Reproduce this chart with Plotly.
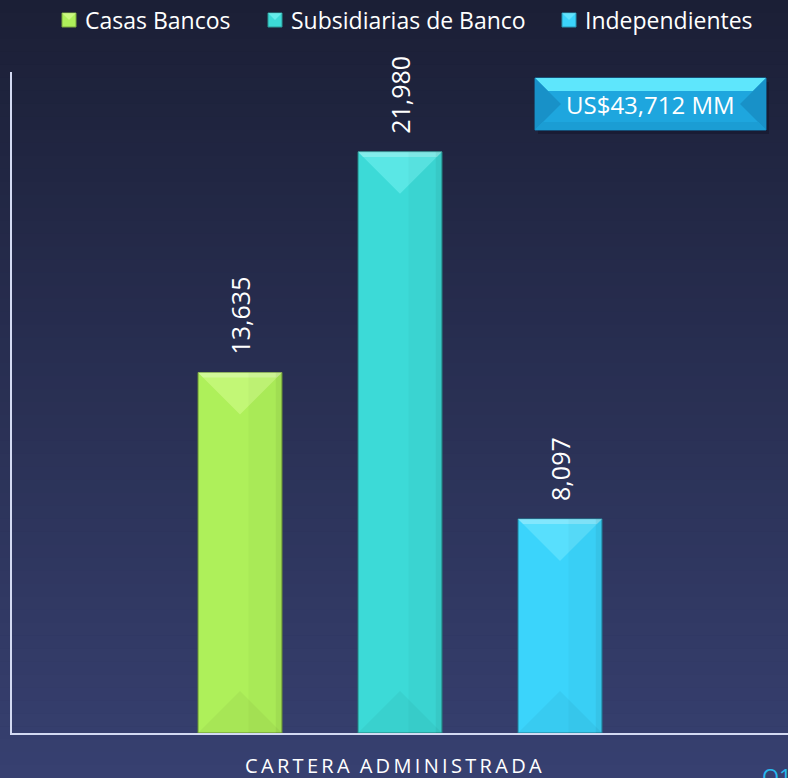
import plotly.graph_objects as go

# data
series = ["Casas Bancos", "Subsidiarias de Banco", "Independientes"]
values = [13635, 21980, 8097]
labels = ["13,635", "21,980", "8,097"]
total_label = "US$43,712 MM"
category = "CARTERA ADMINISTRADA"
period = "Q1"

COLORS = ["#aef05a", "#3cdad7", "#3bd4fb"]
TOPS = ["#dcff9a", "#7ff6f6", "#7cedff"]

W, H = 788, 778
M = dict(l=12, r=0, t=72, b=45)
Y_MAX = 25000
X_RANGE = [-1.425, 3.425]
BAR_W = 0.525

plot_w = W - M["l"] - M["r"]
plot_h = H - M["t"] - M["b"]
px_y = plot_h / Y_MAX            # pixels per y unit
px_x = plot_w / (X_RANGE[1] - X_RANGE[0])


def paper_x(px):
    return (px - M["l"]) / plot_w


def paper_y(py):
    return (H - M["b"] - py) / plot_h


def mix(c1, c2, t):
    a = [int(c1[i:i + 2], 16) for i in (1, 3, 5)]
    b = [int(c2[i:i + 2], 16) for i in (1, 3, 5)]
    return "#%02x%02x%02x" % tuple(round(a[k] + (b[k] - a[k]) * t) for k in range(3))


fig = go.Figure()

for i, (name, v) in enumerate(zip(series, values)):
    fig.add_trace(
        go.Bar(
            x=[i],
            y=[v],
            name=name,
            width=BAR_W,
            marker=dict(color=COLORS[i], line=dict(color=mix(COLORS[i], "#000000", 0.4), width=1)),
            hoverinfo="skip",
            showlegend=False,
        )
    )

shapes = []

# background gradient
bands = 60
for k in range(bands):
    y0, y1 = H * k / bands, H * (k + 1) / bands
    shapes.append(dict(
        type="rect", xref="paper", yref="paper", layer="below",
        x0=paper_x(-2), x1=paper_x(W + 2), y0=paper_y(y1 + 0.5), y1=paper_y(y0),
        fillcolor=mix("#1b1f36", "#374070", (k + 0.5) / bands), line=dict(width=0),
    ))

# bevel decoration on the bars, derived from the data values
hw = BAR_W / 2
depth = hw * px_x / px_y
for i, v in enumerate(values):
    xl, xr = i - hw, i + hw
    shapes.append(dict(
        type="path", xref="x", yref="y", layer="above",
        path=f"M{xl},{v} L{xr},{v} L{i},{v - depth} Z",
        fillcolor=TOPS[i], opacity=0.45, line=dict(width=0),
    ))
    shapes.append(dict(
        type="path", xref="x", yref="y", layer="above",
        path=f"M{xl},{v} L{xr},{v} L{xr - hw * 0.12},{v - depth * 0.12} L{xl + hw * 0.12},{v - depth * 0.12} Z",
        fillcolor="#ffffff", opacity=0.25, line=dict(width=0),
    ))
    shapes.append(dict(
        type="path", xref="x", yref="y", layer="above",
        path=f"M{xl},0 L{xr},0 L{i},{depth} Z",
        fillcolor="#000000", opacity=0.04, line=dict(width=0),
    ))
    shapes.append(dict(
        type="rect", xref="x", yref="y", layer="above",
        x0=i + hw * 0.2, x1=xr, y0=0, y1=v,
        fillcolor="#000000", opacity=0.025, line=dict(width=0),
    ))
    shapes.append(dict(
        type="rect", xref="x", yref="y", layer="above",
        x0=xr - hw * 0.15, x1=xr, y0=0, y1=v,
        fillcolor="#000000", opacity=0.05, line=dict(width=0),
    ))

# total box with bevel
bx0, bx1, by0, by1 = 535, 766, 78, 130
bd = 26
shapes += [
    dict(type="rect", xref="paper", yref="paper", x0=paper_x(bx0 + 3), x1=paper_x(bx1 + 3),
         y0=paper_y(by1 + 4), y1=paper_y(by0 + 4), fillcolor="#111427", opacity=0.5, line=dict(width=0)),
    dict(type="rect", xref="paper", yref="paper", x0=paper_x(bx0), x1=paper_x(bx1),
         y0=paper_y(by1), y1=paper_y(by0), fillcolor="#1ea6de", line=dict(color="#1380b5", width=1)),
    dict(type="path", xref="paper", yref="paper", line=dict(width=0), fillcolor="#5ee6fc",
         path=f"M{paper_x(bx0)},{paper_y(by0)} L{paper_x(bx1)},{paper_y(by0)} "
              f"L{paper_x(bx1 - 13)},{paper_y(by0 + 13)} L{paper_x(bx0 + 13)},{paper_y(by0 + 13)} Z"),
    dict(type="path", xref="paper", yref="paper", line=dict(width=0), fillcolor="#1891c8",
         path=f"M{paper_x(bx0)},{paper_y(by0)} L{paper_x(bx0 + bd)},{paper_y((by0 + by1) / 2)} "
              f"L{paper_x(bx0)},{paper_y(by1)} Z"),
    dict(type="path", xref="paper", yref="paper", line=dict(width=0), fillcolor="#1891c8",
         path=f"M{paper_x(bx1)},{paper_y(by0)} L{paper_x(bx1 - bd)},{paper_y((by0 + by1) / 2)} "
              f"L{paper_x(bx1)},{paper_y(by1)} Z"),
    dict(type="path", xref="paper", yref="paper", line=dict(width=0), fillcolor="#1b9dd4",
         path=f"M{paper_x(bx0)},{paper_y(by1)} L{paper_x(bx1)},{paper_y(by1)} "
              f"L{paper_x(bx1 - 8)},{paper_y(by1 - 8)} L{paper_x(bx0 + 8)},{paper_y(by1 - 8)} Z"),
]

annotations = []

# legend drawn by hand so the spacing matches
legend_x = [62, 268, 562]
for i, name in enumerate(series):
    lx = legend_x[i]
    shapes.append(dict(
        type="rect", xref="paper", yref="paper",
        x0=paper_x(lx), x1=paper_x(lx + 14), y0=paper_y(27), y1=paper_y(13),
        fillcolor=COLORS[i], line=dict(color=mix(COLORS[i], "#000000", 0.3), width=1),
    ))
    shapes.append(dict(
        type="path", xref="paper", yref="paper", line=dict(width=0), fillcolor=TOPS[i], opacity=0.6,
        path=f"M{paper_x(lx)},{paper_y(13)} L{paper_x(lx + 14)},{paper_y(13)} L{paper_x(lx + 7)},{paper_y(20)} Z",
    ))
    annotations.append(dict(
        x=paper_x(lx + 21), y=paper_y(20), xref="paper", yref="paper", text=name,
        showarrow=False, xanchor="left", yanchor="middle",
        font=dict(family="Open Sans", size=23, color="#ffffff"),
    ))

for i, (v, lab) in enumerate(zip(values, labels)):
    annotations.append(dict(
        x=i, y=v, xref="x", yref="y", text=lab, textangle=-90, showarrow=False,
        yanchor="bottom", xanchor="center", yshift=16,
        font=dict(family="Open Sans", size=25, color="#ffffff"),
    ))

annotations.append(dict(
    x=paper_x((bx0 + bx1) / 2), y=paper_y((by0 + by1) / 2), xref="paper", yref="paper",
    text=total_label, showarrow=False, xanchor="center", yanchor="middle",
    font=dict(family="Open Sans", size=24, color="#ffffff"),
))

annotations.append(dict(
    x=paper_x(W / 2 - 1), y=paper_y(765), xref="paper", yref="paper",
    text="\u2009".join(category).replace("\u2009 \u2009", "\u2002"), showarrow=False,
    xanchor="center", yanchor="middle",
    font=dict(family="Open Sans", size=20, color="#ffffff"),
))

annotations.append(dict(
    x=paper_x(760), y=paper_y(776), xref="paper", yref="paper",
    text=period, showarrow=False, xanchor="left", yanchor="middle",
    font=dict(family="Open Sans", size=22, color="#27b8ee"),
))

fig.update_layout(
    width=W,
    height=H,
    margin=M,
    paper_bgcolor="#2a3056",
    plot_bgcolor="rgba(0,0,0,0)",
    barmode="overlay",
    showlegend=False,
    shapes=shapes,
    annotations=annotations,
)
fig.update_xaxes(
    range=X_RANGE, showticklabels=False, showgrid=False, zeroline=False,
    showline=True, linecolor="#d3daf2", linewidth=2, ticks="",
)
fig.update_yaxes(
    range=[0, Y_MAX], showticklabels=False, showgrid=False, zeroline=False,
    showline=True, linecolor="#d3daf2", linewidth=2, ticks="",
)

fig.write_html(
    "out.html",
    config={"displayModeBar": False},
    post_script="document.body.style.margin='0';",
)
